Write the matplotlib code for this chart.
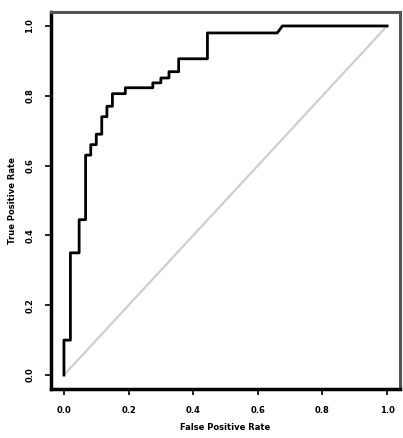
import numpy as np
import matplotlib
matplotlib.use("Agg")
import matplotlib.pyplot as plt

# ROC curve (step points)
fpr = [0.0, 0.0, 0.02, 0.02, 0.047, 0.047, 0.067, 0.067, 0.083, 0.083, 0.10, 0.10,
       0.117, 0.117, 0.133, 0.133, 0.15, 0.15, 0.19, 0.19, 0.275, 0.275, 0.30, 0.30,
       0.325, 0.325, 0.355, 0.355, 0.444, 0.444, 0.66, 0.668, 0.676, 1.0]
tpr = [0.0, 0.10, 0.10, 0.35, 0.35, 0.445, 0.445, 0.63, 0.63, 0.66, 0.66, 0.69,
       0.69, 0.74, 0.74, 0.77, 0.77, 0.806, 0.806, 0.823, 0.823, 0.837, 0.837, 0.851,
       0.851, 0.869, 0.869, 0.906, 0.906, 0.98, 0.98, 0.99, 1.0, 1.0]
ticks = [0.0, 0.2, 0.4, 0.6, 0.8, 1.0]
tick_labels = ["0.0", "0.2", "0.4", "0.6", "0.8", "1.0"]

fig = plt.figure(figsize=(4.03, 4.38), dpi=100)
ax = fig.add_axes([0.1266, 0.1119, 0.866, 0.8607])

ax.plot([0, 1], [0, 1], color="#cfcfcf", lw=1.6)
ax.plot(fpr, tpr, color="black", lw=2)

ax.set_xlim(-0.04, 1.04)
ax.set_ylim(-0.04, 1.04)
ax.set_xticks(ticks)
ax.set_xticklabels(tick_labels, fontsize=6, fontweight="bold")
ax.set_yticks(ticks)
ax.set_yticklabels(tick_labels, fontsize=6, fontweight="bold", rotation=90, va="center")
ax.tick_params(direction="out", length=4, width=1.2, pad=8)

ax.set_xlabel("False Positive Rate", fontsize=6, fontweight="bold", labelpad=6)
ax.set_ylabel("True Positive Rate", fontsize=6, fontweight="bold", labelpad=6)

for s in ["left", "bottom"]:
    ax.spines[s].set_linewidth(2.5)
    ax.spines[s].set_color("black")
for s in ["top", "right"]:
    ax.spines[s].set_linewidth(2.2)
    ax.spines[s].set_color("#555555")

fig.savefig("out.png", dpi=100)
